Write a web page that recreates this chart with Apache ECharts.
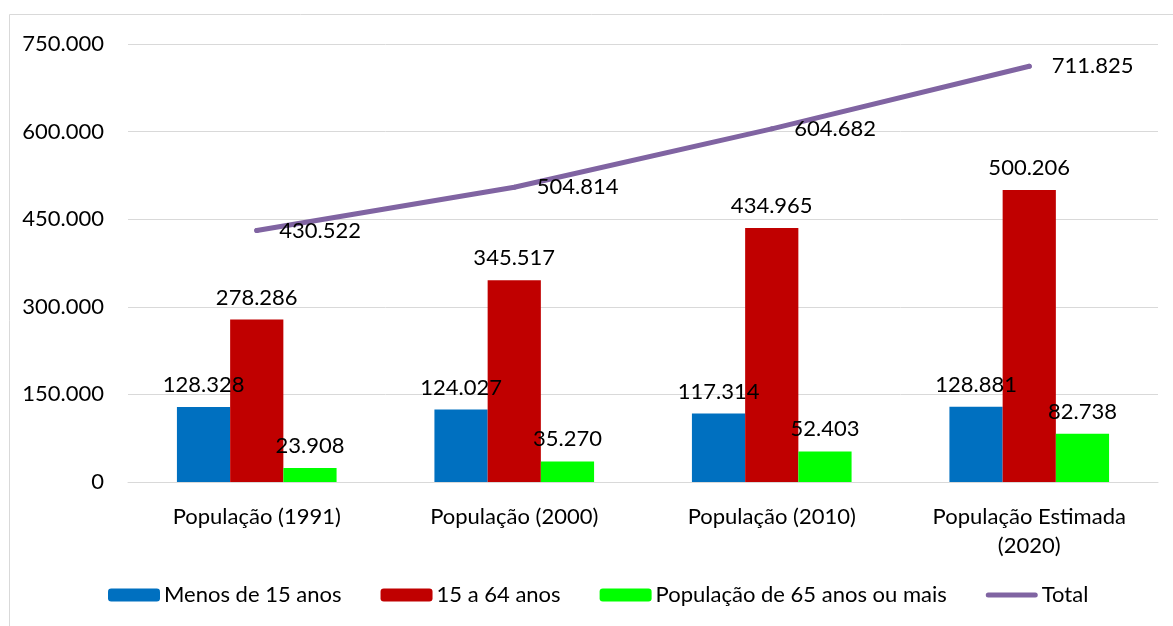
<!DOCTYPE html>
<html>
<head>
<meta charset="utf-8">
<script src="https://cdn.jsdelivr.net/npm/echarts@6/dist/echarts.min.js"></script>
<style>
  html, body { margin: 0; padding: 0; background: #fff; }
  #chart { width: 1173px; height: 626px; }
</style>
</head>
<body>
<div id="chart"></div>
<script>
var categories = ['População (1991)', 'População (2000)', 'População (2010)', 'População Estimada\n(2020)'];
var menos15 = [128328, 124027, 117314, 128881];
var de15a64 = [278286, 345517, 434965, 500206];
var mais65 = [23908, 35270, 52403, 82738];
var total = [430522, 504814, 604682, 711825];

function fmt(v) {
    return String(v).replace(/\B(?=(\d{3})+(?!\d))/g, '.');
}

var chart = echarts.init(document.getElementById('chart'));
var font = 'Lato';
var fs = 22;

// thin rounded line for the "Total" legend entry (corner dots keep the box at 52x13)
var lineIcon = 'path://M0,0 L0.01,0 L0.01,0.01 Z M52,13 L51.99,13 L51.99,12.99 Z ' +
    'M2.5,4 L49.5,4 A2.5,2.5 0 0 1 49.5,9 L2.5,9 A2.5,2.5 0 0 1 2.5,4 Z';

var barLabel = {
    show: true,
    position: 'top',
    distance: 11,
    color: '#000',
    fontFamily: font,
    fontSize: fs,
    formatter: function (p) { return fmt(p.value); }
};

var option = {
    animation: false,
    textStyle: { fontFamily: font },
    graphic: [{
        type: 'rect',
        shape: { x: 9.5, y: 14.5, width: 1300, height: 700 },
        style: { fill: 'none', stroke: '#D9D9D9', lineWidth: 1 }
    }],
    grid: { left: 128, right: 15, top: 44, bottom: 144 },
    legend: {
        left: 103,
        top: 579,
        itemWidth: 52,
        itemHeight: 13,
        itemGap: 39,
        textStyle: { fontFamily: font, fontSize: fs, color: '#000', padding: [0, 0, 0, -1] },
        data: ['Menos de 15 anos', '15 a 64 anos', 'População de 65 anos ou mais', { name: 'Total', icon: lineIcon }]
    },
    xAxis: {
        type: 'category',
        data: categories,
        axisTick: { show: false },
        axisLine: { lineStyle: { color: '#D9D9D9', width: 1 } },
        axisLabel: { color: '#000', fontFamily: font, fontSize: fs, margin: 20, lineHeight: 29 }
    },
    yAxis: {
        type: 'value',
        min: 0,
        max: 750000,
        interval: 150000,
        axisLine: { show: false },
        axisTick: { show: false },
        splitLine: { lineStyle: { color: '#D9D9D9', width: 1 } },
        axisLabel: {
            color: '#000', fontFamily: font, fontSize: fs, margin: 24,
            formatter: function (v) { return fmt(v); }
        }
    },
    series: [
        {
            name: 'Menos de 15 anos', type: 'bar', data: menos15,
            barGap: '0%', barCategoryGap: '38%',
            itemStyle: { color: '#0070C0' }, label: barLabel
        },
        {
            name: '15 a 64 anos', type: 'bar', data: de15a64,
            itemStyle: { color: '#C00000' }, label: barLabel
        },
        {
            name: 'População de 65 anos ou mais', type: 'bar', data: mais65,
            itemStyle: { color: '#00FF00' }, label: barLabel
        },
        {
            name: 'Total', type: 'line', data: total,
            symbol: 'circle',
            symbolSize: 5,
            lineStyle: { color: '#8064A2', width: 5, cap: 'round' },
            itemStyle: { color: '#8064A2' },
            label: {
                show: true, position: 'right', distance: 20,
                color: '#000', fontFamily: font, fontSize: fs,
                formatter: function (p) { return fmt(p.value); }
            }
        }
    ]
};

chart.setOption(option);
</script>
</body>
</html>
